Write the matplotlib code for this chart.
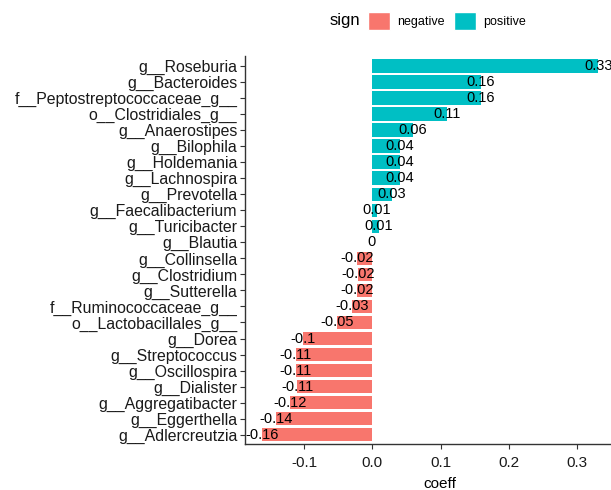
import matplotlib
matplotlib.use("Agg")
import matplotlib.pyplot as plt
from matplotlib.patches import Patch

plt.rcParams['font.family'] = ['Liberation Sans', 'DejaVu Sans']

# taxa from top to bottom, as in the chart
taxa = ["g__Roseburia", "g__Bacteroides", "f__Peptostreptococcaceae_g__",
        "o__Clostridiales_g__", "g__Anaerostipes", "g__Bilophila",
        "g__Holdemania", "g__Lachnospira", "g__Prevotella",
        "g__Faecalibacterium", "g__Turicibacter", "g__Blautia",
        "g__Collinsella", "g__Clostridium", "g__Sutterella",
        "f__Ruminococcaceae_g__", "o__Lactobacillales_g__", "g__Dorea",
        "g__Streptococcus", "g__Oscillospira", "g__Dialister",
        "g__Aggregatibacter", "g__Eggerthella", "g__Adlercreutzia"]
coeff = [0.331, 0.159, 0.159, 0.110, 0.059, 0.040, 0.040, 0.040, 0.029,
         0.007, 0.010, -0.001, -0.0225, -0.021, -0.0225, -0.030, -0.051,
         -0.101, -0.112, -0.112, -0.110, -0.121, -0.141, -0.162]
xticks = [-0.1, 0.0, 0.1, 0.2, 0.3]

col_neg = "#F8766D"
col_pos = "#00BFC4"


def r_label(v):
    r = round(v, 2) + 0.0
    if r == 0:
        return "0"
    return f"{r:g}"


fig = plt.figure(figsize=(6.11, 4.9), dpi=100)
ax = fig.add_axes([245 / 611, 45.7 / 490, 373 / 611, 387.9 / 490])

n = len(taxa)
ypos = list(range(n, 0, -1))
colors = [col_pos if v > 0 else col_neg for v in coeff]
ax.barh(ypos, coeff, height=0.84, color=colors, edgecolor="none")

for y, v in zip(ypos, coeff):
    ax.text(v, y, r_label(v), ha="center", va="center", fontsize=10.5,
            color="black", clip_on=False)

ax.set_xlim(-0.1864, 0.36)
ax.set_ylim(0.4, n + 0.6)
ax.set_yticks(ypos)
ax.set_yticklabels(taxa, fontsize=11.4, color="#1a1a1a")
ax.set_xticks(xticks)
ax.set_xticklabels([f"{t:.1f}" for t in xticks], fontsize=11, color="#1a1a1a")
ax.tick_params(axis="both", length=3.5, width=0.8, color="#333333", pad=2)
ax.tick_params(axis="x", pad=5)

for s in ["top", "right"]:
    ax.spines[s].set_visible(False)
for s in ["left", "bottom"]:
    ax.spines[s].set_color("#333333")
    ax.spines[s].set_linewidth(1.0)

ax.set_xlabel("coeff", fontsize=11)
ax.xaxis.set_label_coords((440 - 245) / 373, -0.085)

# legend on top
fig.text(345 / 611, 1 - 21 / 490, "sign", fontsize=12, ha="center", va="center")
handles = [Patch(facecolor=col_neg, edgecolor="white"),
           Patch(facecolor=col_pos, edgecolor="white")]
fig.legend(handles, ["negative", "positive"], ncol=2, frameon=False,
           loc="center left", bbox_to_anchor=(368 / 611, 1 - 21 / 490),
           fontsize=9, handlelength=1.76, handleheight=1.84,
           handletextpad=0.55, columnspacing=0.8, borderpad=0,
           borderaxespad=0)

fig.savefig("out.png", dpi=100)
